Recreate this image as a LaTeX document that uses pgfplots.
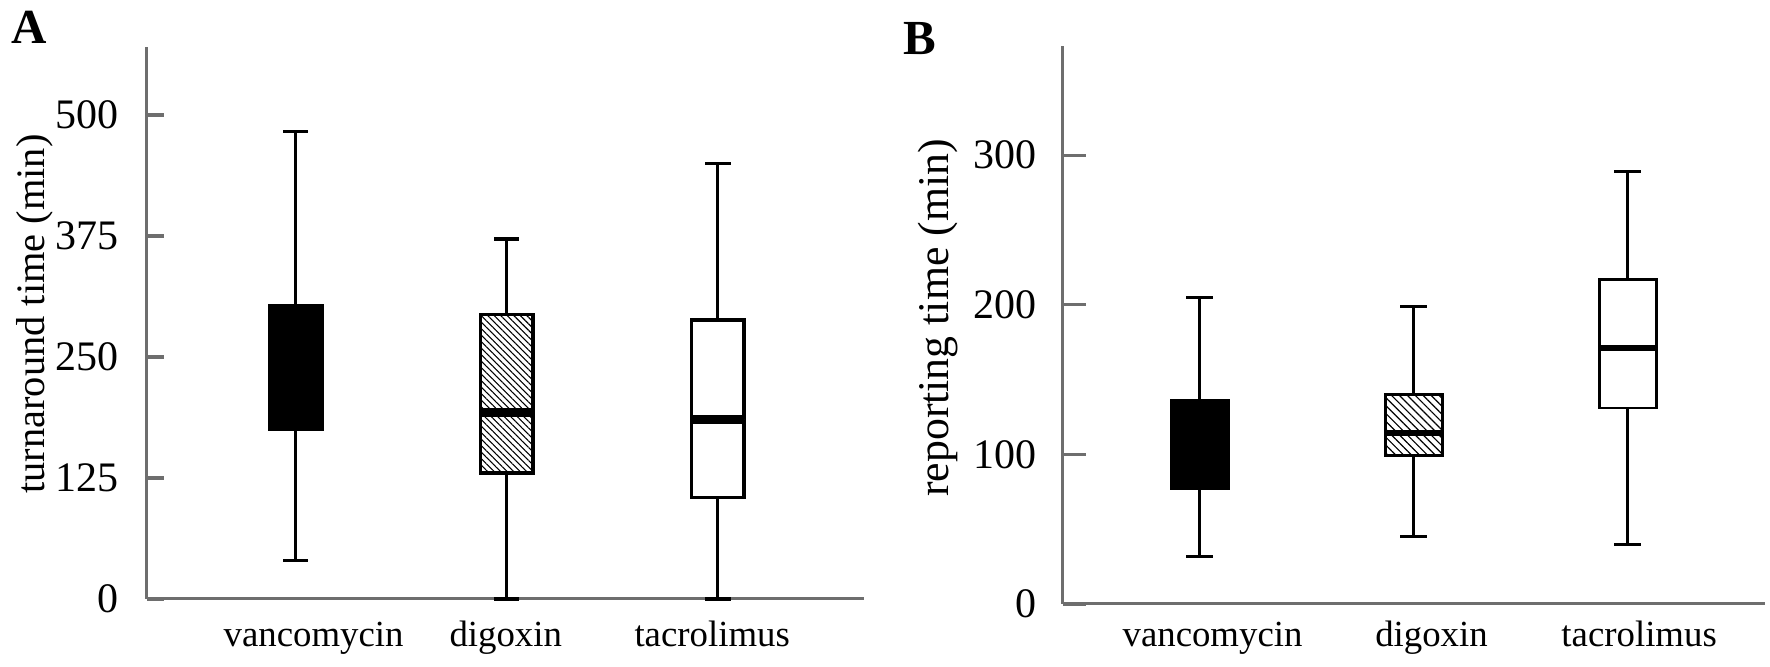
\documentclass[border=0pt]{standalone}
\usepackage{fontspec}
\setmainfont{Liberation Serif}
\usepackage{pgfplots}
\pgfplotsset{compat=1.18}
\usepgfplotslibrary{statistics}
\usetikzlibrary{patterns.meta}
\definecolor{axgray}{RGB}{110,110,110}
\begin{document}
\begin{tikzpicture}
\useasboundingbox (0,0) rectangle (885pt,333.5pt);
\pgfplotsset{
  panel/.style={
    scale only axis, clip=false,
    axis x line=bottom, axis y line=left,
    axis line style={-, draw=axgray, line width=1.5pt},
    ymin=0,
    tick align=inside,
    ytick pos=left,
    ytick style={draw=axgray, line width=1.6pt},
    xtick style={draw=none},
    xticklabel style={anchor=base, inner sep=0pt, font=\fontsize{18.4}{20}\selectfont},
    yticklabel style={anchor=east, inner sep=0pt, font=\fontsize{21}{24}\selectfont},
    /pgf/number format/assume math mode=true,
    boxplot/draw direction=y,
  },
}
% ---------------- Panel A ----------------
\begin{axis}[panel,
  at={(73.35pt,34pt)}, anchor=south west,
  width=358.4pt, height=276.15pt,
  xmin=0.294, xmax=3.69, ymax=570.6,
  ytick={0,125,250,375,500},
  major tick length=8.5pt,
  xtick={1.085,1.995,2.973},
  xticklabels={vancomycin,digoxin,tacrolimus},
  xticklabel style={yshift=-24pt},
  yticklabel style={xshift=-13.8pt},
  ylabel={turnaround time (min)},
  every axis y label/.style={at={(axis description cs:-0.1558,0.516)}, rotate=90, anchor=center, font=\fontsize{20.2}{22}\selectfont},
  boxplot/box extend=0.25, boxplot/whisker extend=0.12,
  boxplot/every whisker/.style={line width=1.6pt},
  boxplot/every box/.style={line width=1.8pt},
  boxplot/every median/.style={line width=4.5pt},
]
\addplot[draw=black, fill=black, boxplot prepared={draw position=1,
  lower whisker=40, lower quartile=175, median=240, upper quartile=303, upper whisker=483}]
  coordinates {};
\addplot[draw=black, pattern={Lines[angle=-45,distance=2.3pt,line width=0.55pt]}, pattern color=black,
  boxplot prepared={draw position=2,
  lower whisker=0, lower quartile=130, median=193, upper quartile=294, upper whisker=372}]
  coordinates {};
\addplot[draw=black, fill=white, boxplot prepared={draw position=3,
  lower whisker=0, lower quartile=105, median=185, upper quartile=288, upper whisker=450}]
  coordinates {};
\end{axis}
% ---------------- Panel B ----------------
\begin{axis}[panel,
  at={(531.35pt,31.5pt)}, anchor=south west,
  width=351.35pt, height=279pt,
  xmin=0.36, xmax=3.643, ymax=373,
  ytick={0,100,200,300},
  major tick length=11.5pt,
  xtick={1.06,2.083,3.053},
  xticklabels={vancomycin,digoxin,tacrolimus},
  xticklabel style={yshift=-21.5pt},
  yticklabel style={xshift=-13pt},
  ylabel={reporting time (min)},
  every axis y label/.style={at={(axis description cs:-0.1775,0.5125)}, rotate=90, anchor=center, font=\fontsize{21.9}{24}\selectfont},
  boxplot/box extend=0.265, boxplot/whisker extend=0.125,
  boxplot/every whisker/.style={line width=1.45pt},
  boxplot/every box/.style={line width=1.45pt},
  boxplot/every median/.style={line width=3pt},
]
\addplot[draw=black, fill=black, boxplot prepared={draw position=1,
  lower whisker=32, lower quartile=77, median=105, upper quartile=136, upper whisker=205}]
  coordinates {};
\addplot[draw=black, pattern={Lines[angle=-45,distance=2.8pt,line width=0.6pt]}, pattern color=black,
  boxplot prepared={draw position=2,
  lower whisker=45, lower quartile=99, median=114, upper quartile=140, upper whisker=199}]
  coordinates {};
\addplot[draw=black, fill=white, boxplot prepared={draw position=3,
  lower whisker=40, lower quartile=131, median=171, upper quartile=217, upper whisker=289}]
  coordinates {};
\end{axis}
\node[anchor=base west, inner sep=0pt, font=\fontsize{24.5}{26}\selectfont\bfseries] at (5.5pt,311.5pt) {A};
\node[anchor=base west, inner sep=0pt, font=\fontsize{24.5}{26}\selectfont\bfseries] at (451.5pt,306pt) {B};
\end{tikzpicture}
\end{document}
